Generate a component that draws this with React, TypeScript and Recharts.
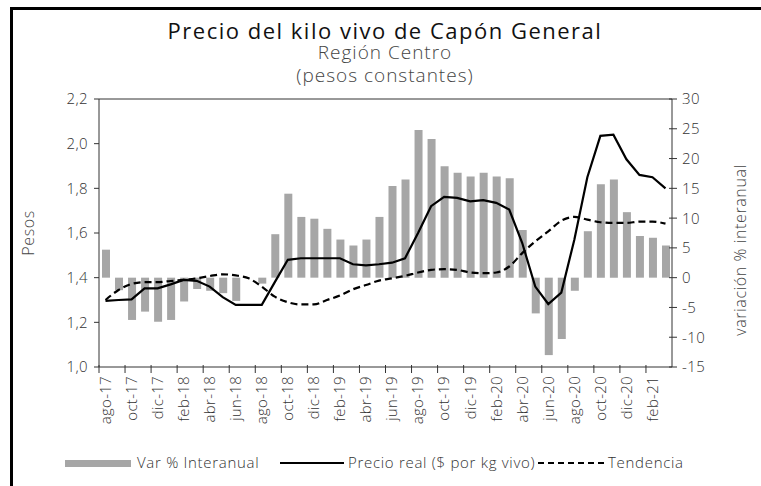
import React from 'react';
import { ComposedChart, Bar, Line, XAxis, YAxis, ReferenceLine, Label } from 'recharts';

// monthly series, ago-17 .. mar-21
const months = [
    'ago-17', 'sep-17', 'oct-17', 'nov-17', 'dic-17',
    'ene-18', 'feb-18', 'mar-18', 'abr-18', 'may-18', 'jun-18', 'jul-18', 'ago-18', 'sep-18', 'oct-18', 'nov-18', 'dic-18',
    'ene-19', 'feb-19', 'mar-19', 'abr-19', 'may-19', 'jun-19', 'jul-19', 'ago-19', 'sep-19', 'oct-19', 'nov-19', 'dic-19',
    'ene-20', 'feb-20', 'mar-20', 'abr-20', 'may-20', 'jun-20', 'jul-20', 'ago-20', 'sep-20', 'oct-20', 'nov-20', 'dic-20',
    'ene-21', 'feb-21', 'mar-21',
];

const varInteranual = [
    4.7, -2.1, -7.1, -5.7, -7.4,
    -7.1, -4.0, -1.9, -2.2, -2.6, -3.9, 0, -1.0, 7.3, 14.1, 10.2, 9.9,
    8.2, 6.4, 5.4, 6.4, 10.2, 15.4, 16.5, 24.8, 23.3, 18.7, 17.6, 17.0,
    17.6, 17.0, 16.7, 8.0, -6.0, -13.0, -10.3, -2.2, 7.8, 15.7, 16.5, 11.0,
    7.0, 6.7, 5.4,
];

const precioReal = [
    1.296, 1.30, 1.303, 1.352, 1.352,
    1.37, 1.39, 1.386, 1.36, 1.313, 1.278, 1.278, 1.278, 1.38, 1.48, 1.487, 1.487,
    1.487, 1.487, 1.46, 1.455, 1.46, 1.467, 1.487, 1.60, 1.72, 1.762, 1.757, 1.742,
    1.747, 1.735, 1.705, 1.555, 1.36, 1.282, 1.333, 1.57, 1.85, 2.035, 2.04, 1.93,
    1.86, 1.85, 1.80,
];

const tendencia = [
    1.30, 1.345, 1.372, 1.38, 1.38,
    1.385, 1.39, 1.397, 1.407, 1.415, 1.41, 1.397, 1.36, 1.315, 1.29, 1.28, 1.28,
    1.30, 1.32, 1.348, 1.367, 1.387, 1.397, 1.408, 1.423, 1.435, 1.438, 1.435, 1.423,
    1.42, 1.423, 1.45, 1.51, 1.5625, 1.6075, 1.655, 1.672, 1.66, 1.648, 1.645, 1.645,
    1.651, 1.651, 1.642,
];

const leftTicks = [1.0, 1.2, 1.4, 1.6, 1.8, 2.0, 2.2];
const rightTicks = [-15, -10, -5, 0, 5, 10, 15, 20, 25, 30];

const data = months.map((m, i) => ({
    month: m,
    variacion: varInteranual[i],
    precio: precioReal[i],
    tendencia: tendencia[i],
}));

const W = 761, H = 486;
const PLOT_LEFT = 99, PLOT_RIGHT = 672, PLOT_TOP = 99, PLOT_BOTTOM = 367;
const BAND = (PLOT_RIGHT - PLOT_LEFT) / months.length;
const FONT = '"Open Sans", Lato, sans-serif';
const AXIS = '#333';
const TXT = '#333';
const BAR = '#a6a6a6';

const XTick = (props: any) => {
    const { x, payload } = props;
    if (payload.index % 2 !== 0) return null;
    const bx = x - BAND / 2;
    const ty = PLOT_BOTTOM + 9;
    return (
        <g>
            <line x1={bx} x2={bx} y1={PLOT_BOTTOM - 2} y2={PLOT_BOTTOM + 6} stroke={AXIS} />
            <text x={x} y={ty} transform={`rotate(-90 ${x} ${ty})`} textAnchor="end" dy="0.36em"
                fontSize={15} fontWeight={300} letterSpacing={0.3} fill={TXT} fontFamily={FONT}>{payload.value}</text>
        </g>
    );
};

const RightTick = (props: any) => {
    const { y, payload } = props;
    return (
        <g>
            <line x1={PLOT_RIGHT - 3} x2={PLOT_RIGHT + 5} y1={y} y2={y} stroke={AXIS} />
            <text x={PLOT_RIGHT + 10} y={y} dy="0.36em" fontSize={15} fontWeight={300} letterSpacing={0.4}
                fill={TXT} fontFamily={FONT}>{payload.value}</text>
        </g>
    );
};

const Legend = () => (
    <div style={{ position: 'absolute', left: 0, top: 452, width: W, height: 22, fontFamily: FONT, fontSize: 15, fontWeight: 300, letterSpacing: 0.7, color: TXT, whiteSpace: 'nowrap' }}>
        <div style={{ position: 'absolute', left: 65, top: 8, width: 66, height: 7, background: BAR }} />
        <span style={{ position: 'absolute', left: 137, top: 0 }}>Var % Interanual</span>
        <svg style={{ position: 'absolute', left: 280, top: 0 }} width={64} height={22}>
            <line x1={0} x2={64} y1={11} y2={11} stroke="#000" strokeWidth={2} />
        </svg>
        <span style={{ position: 'absolute', left: 348, top: 0 }}>Precio real ($ por kg vivo)</span>
        <svg style={{ position: 'absolute', left: 538, top: 0 }} width={66} height={22}>
            <line x1={0} x2={66} y1={11} y2={11} stroke="#000" strokeWidth={2} strokeDasharray="6 4" />
        </svg>
        <span style={{ position: 'absolute', left: 608, top: 0 }}>Tendencia</span>
    </div>
);

const titleLine = (text: string, top: number, size: number, color: string, weight: number, spacing: number) => (
    <div style={{
        position: 'absolute', left: 0, width: 770, top, height: size, lineHeight: `${size}px`,
        textAlign: 'center', fontFamily: FONT, fontSize: size, fontWeight: weight, color,
        letterSpacing: spacing, whiteSpace: 'nowrap',
    }}>{text}</div>
);

export default function App() {
    return (
        <div style={{ position: 'fixed', left: 0, top: 0, width: W, height: H, background: '#fff', overflow: 'hidden' }}>
            <div style={{ position: 'absolute', left: 10, top: 7, width: 800, height: 520, borderLeft: '3px solid #000', borderTop: '3px solid #000' }} />
            {titleLine('Precio del kilo vivo de Capón General', 19, 22, '#111', 400, 1.5)}
            {titleLine('Región Centro', 43, 19, '#444', 300, 1)}
            {titleLine('(pesos constantes)', 66, 19, '#444', 300, 1)}
            <div style={{ position: 'absolute', left: 0, top: 0 }}>
                <ComposedChart width={W} height={H} data={data} margin={{ top: PLOT_TOP, right: 0, bottom: 0, left: 0 }}>
                    <XAxis dataKey="month" interval={0} height={H - PLOT_BOTTOM} tickLine={false}
                        axisLine={{ stroke: AXIS }} tick={<XTick />} />
                    <YAxis yAxisId="left" domain={[1, 2.2]} ticks={leftTicks} width={PLOT_LEFT}
                        tickFormatter={(v: number) => v.toFixed(1).replace('.', ',')}
                        tick={{ fill: TXT, fontSize: 15, fontWeight: 300, fontFamily: FONT, letterSpacing: 0.4 }}
                        tickSize={5} tickMargin={6} axisLine={{ stroke: AXIS }} tickLine={{ stroke: AXIS }}>
                        <Label value="Pesos" angle={-90} position="insideLeft" offset={28}
                            style={{ fill: '#444', fontSize: 16, fontWeight: 300, fontFamily: FONT, letterSpacing: 0.6, textAnchor: 'middle' }} />
                    </YAxis>
                    <YAxis yAxisId="right" orientation="right" domain={[-15, 30]} ticks={rightTicks}
                        width={W - PLOT_RIGHT} tickLine={false} axisLine={{ stroke: AXIS }} tick={<RightTick />}>
                        <Label content={(p: any) => {
                            const vb = p.viewBox;
                            const cx = vb.x + vb.width - 15;
                            const cy = vb.y + vb.height / 2 + 17;
                            return (
                                <text x={cx} y={cy} transform={`rotate(-90 ${cx} ${cy})`} textAnchor="middle"
                                    fill="#444" fontSize={16} fontWeight={300} letterSpacing={0.6}
                                    fontFamily={FONT}>variación % interanual</text>
                            );
                        }} />
                    </YAxis>
                    <ReferenceLine yAxisId="left" y={2.2} stroke={AXIS} />
                    <Bar yAxisId="right" dataKey="variacion" fill={BAR} barSize={8} isAnimationActive={false} />
                    <Line yAxisId="left" dataKey="precio" type="linear" stroke="#000" strokeWidth={2.2}
                        dot={false} activeDot={false} isAnimationActive={false} />
                    <Line yAxisId="left" dataKey="tendencia" type="monotone" stroke="#000" strokeWidth={2.2}
                        strokeDasharray="7 4" dot={false} activeDot={false} isAnimationActive={false} />
                </ComposedChart>
            </div>
            <Legend />
        </div>
    );
}
